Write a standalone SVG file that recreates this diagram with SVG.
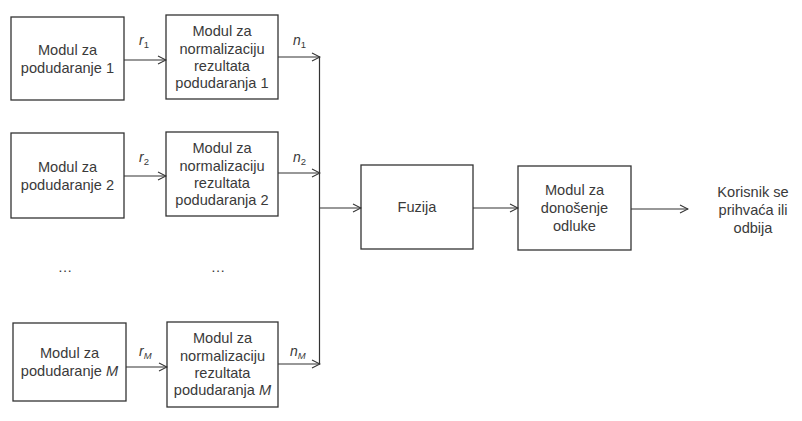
<svg xmlns="http://www.w3.org/2000/svg" width="802" height="421" viewBox="0 0 802 421">
<defs>
<marker id="arr" viewBox="0 0 10 10" refX="9" refY="5" markerWidth="10" markerHeight="10" markerUnits="userSpaceOnUse" orient="auto">
<path d="M1,1 L9,5 L1,9" fill="none" stroke="#333" stroke-width="1.1"/>
</marker>
<style>
.box{fill:#fff;stroke:#333;stroke-width:1.3}
.t{font-family:"Liberation Sans",Arial,sans-serif;font-size:14.6px;fill:#3a3a3a;text-anchor:middle}
.lbl{font-family:"Liberation Sans",Arial,sans-serif;font-size:14px;fill:#3a3a3a;font-style:italic}
.sub{font-size:9.5px;font-style:normal}
.subi{font-size:9.5px;font-style:italic}
.ln{fill:none;stroke:#333;stroke-width:1.2}
</style>
</defs>
<rect width="802" height="421" fill="#fff"/>
<g id="m1"><rect class="box" x="11" y="17" width="113" height="83"/>
<text class="t" x="67.5" y="55">Modul za</text><text class="t" x="67.5" y="73">podudaranje 1</text></g>
<g id="m2"><rect class="box" x="11" y="133" width="113" height="85"/>
<text class="t" x="67.5" y="172">Modul za</text><text class="t" x="67.5" y="190">podudaranje 2</text></g>
<g id="mM"><rect class="box" x="13" y="323" width="113" height="78"/>
<text class="t" x="69.5" y="358">Modul za</text><text class="t" x="69.5" y="376">podudaranje <tspan font-style="italic">M</tspan></text></g>
<g id="n1"><rect class="box" x="166" y="15" width="112" height="84"/>
<text class="t" x="222" y="36">Modul za</text><text class="t" x="222" y="54">normalizaciju</text><text class="t" x="222" y="71">rezultata</text><text class="t" x="222" y="88">podudaranja 1</text></g>
<g id="n2"><rect class="box" x="166" y="132" width="112" height="84"/>
<text class="t" x="222" y="153">Modul za</text><text class="t" x="222" y="171">normalizaciju</text><text class="t" x="222" y="188">rezultata</text><text class="t" x="222" y="205">podudaranja 2</text></g>
<g id="nM"><rect class="box" x="167" y="322" width="111" height="85"/>
<text class="t" x="222.5" y="343">Modul za</text><text class="t" x="222.5" y="361">normalizaciju</text><text class="t" x="222.5" y="378">rezultata</text><text class="t" x="222.5" y="395">podudaranja <tspan font-style="italic">M</tspan></text></g>
<g id="dots"><text class="t" x="65" y="272">…</text><text class="t" x="218" y="272">…</text></g>
<g id="fuzija"><rect class="box" x="361" y="165" width="112" height="84"/>
<text class="t" x="417" y="212">Fuzija</text></g>
<g id="odluka"><rect class="box" x="518" y="166" width="113" height="84"/>
<text class="t" x="574.5" y="195">Modul za</text><text class="t" x="574.5" y="213">donošenje</text><text class="t" x="574.5" y="231">odluke</text></g>
<g id="izlaz"><text class="t" x="753" y="197">Korisnik se</text><text class="t" x="753" y="215">prihvaća ili</text><text class="t" x="753" y="233">odbija</text></g>
<g id="connectors">
<line class="ln" x1="124" y1="60" x2="166" y2="60" marker-end="url(#arr)"/>
<line class="ln" x1="124" y1="176" x2="166" y2="176" marker-end="url(#arr)"/>
<line class="ln" x1="126" y1="367" x2="167" y2="367" marker-end="url(#arr)"/>
<line class="ln" x1="278" y1="57" x2="320" y2="57" marker-end="url(#arr)"/>
<line class="ln" x1="278" y1="173" x2="320" y2="173" marker-end="url(#arr)"/>
<line class="ln" x1="278" y1="364" x2="320" y2="364" marker-end="url(#arr)"/>
<line class="ln" x1="319.5" y1="57" x2="319.5" y2="364"/>
<line class="ln" x1="319.5" y1="208" x2="361" y2="208" marker-end="url(#arr)"/>
<line class="ln" x1="473" y1="208" x2="518" y2="208" marker-end="url(#arr)"/>
<line class="ln" x1="631" y1="209" x2="688" y2="209" marker-end="url(#arr)"/>
</g>
<g id="labels">
<text class="lbl" x="139" y="45">r<tspan class="sub" dy="3">1</tspan></text>
<text class="lbl" x="293" y="45">n<tspan class="sub" dy="3">1</tspan></text>
<text class="lbl" x="139" y="162">r<tspan class="sub" dy="3">2</tspan></text>
<text class="lbl" x="293" y="162">n<tspan class="sub" dy="3">2</tspan></text>
<text class="lbl" x="139" y="356">r<tspan class="subi" dy="3">M</tspan></text>
<text class="lbl" x="290" y="356">n<tspan class="subi" dy="3">M</tspan></text>
</g>
</svg>
